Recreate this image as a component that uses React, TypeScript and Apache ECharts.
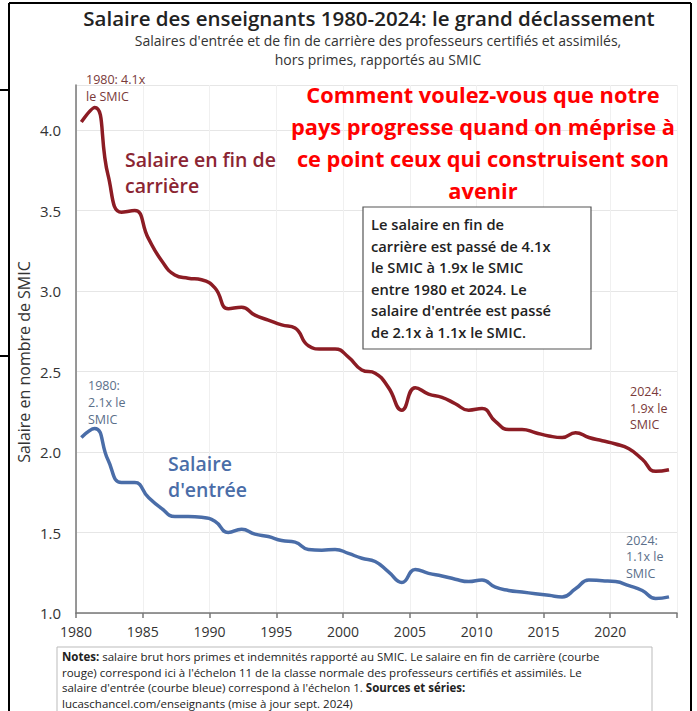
import React, { useEffect, useRef } from "react";
import * as echarts from "echarts";

const years: number[] = [
  1980, 1981, 1982, 1983, 1984, 1985, 1986, 1987, 1988, 1989,
  1990, 1991, 1992, 1993, 1994, 1995, 1996, 1997, 1998, 1999,
  2000, 2001, 2002, 2003, 2004, 2005, 2006, 2007, 2008, 2009,
  2010, 2011, 2012, 2013, 2014, 2015, 2016, 2017, 2018, 2019,
  2020, 2021, 2022, 2023, 2024,
];

const finCarriere: number[] = [
  4.05, 4.14, 3.72, 3.49, 3.5, 3.33, 3.19, 3.1, 3.08, 3.07,
  3.02, 2.89, 2.9, 2.85, 2.82, 2.79, 2.77, 2.66, 2.64, 2.64,
  2.59, 2.51, 2.49, 2.4, 2.26, 2.4, 2.36, 2.34, 2.3, 2.26,
  2.27, 2.19, 2.14, 2.14, 2.12, 2.1, 2.09, 2.12, 2.09, 2.07,
  2.05, 2.02, 1.955, 1.88, 1.89,
];

const entree: number[] = [
  2.09, 2.146, 1.95, 1.81, 1.81, 1.72, 1.65, 1.6, 1.6, 1.595,
  1.57, 1.5, 1.52, 1.49, 1.475, 1.45, 1.44, 1.395, 1.39, 1.395,
  1.37, 1.34, 1.32, 1.256, 1.19, 1.27, 1.246, 1.23, 1.21, 1.195,
  1.205, 1.16, 1.14, 1.13, 1.12, 1.11, 1.1, 1.15, 1.205, 1.2,
  1.195, 1.17, 1.14, 1.09, 1.1,
];

const yTicks: number[] = [1.0, 1.5, 2.0, 2.5, 3.0, 3.5, 4.0];
const xTickLabels: number[] = [1980, 1985, 1990, 1995, 2000, 2005, 2010, 2015, 2020];

const FONT = "'Open Sans', 'Noto Sans', sans-serif";
const YEAR_POS = 0.4; // values plotted slightly after the year tick, as in the source

export default function App() {
  const ref = useRef<HTMLDivElement>(null);

  useEffect(() => {
    if (!ref.current) return;
    const chart = echarts.init(ref.current, undefined, { renderer: "svg" });

    const red = "#8c1c24";
    const blue = "#4a6da8";
    const redNote = "#7a3a3a";
    const blueNote = "#5b6f8a";

    const txt = (x: number, y: number, text: string, opts: any = {}) => ({
      type: "text",
      x,
      y,
      z: 100,
      style: {
        text,
        fontFamily: FONT,
        fontSize: 13,
        fill: "#222",
        textAlign: "left",
        textVerticalAlign: "top",
        ...opts,
      },
    });

    const option: any = {
      animation: false,
      backgroundColor: "#fff",
      grid: { left: 76, right: 20, top: 85, bottom: 98, containLabel: false },
      xAxis: {
        type: "value",
        min: 1980,
        max: 2025,
        interval: 5,
        axisLine: { show: true, lineStyle: { color: "#777", width: 1.5 } },
        axisTick: { show: true, length: 5, lineStyle: { color: "#777", width: 1.5 } },
        axisLabel: {
          margin: 11,
          fontFamily: FONT,
          fontSize: 14,
          color: "#333",
          formatter: (v: number) => (xTickLabels.includes(v) ? String(v) : ""),
        },
        splitLine: { show: true, lineStyle: { color: "#f0f0f0", width: 1 } },
      },
      yAxis: {
        type: "value",
        min: 1.0,
        max: 4.28,
        interval: 0.5,
        axisLine: { show: true, lineStyle: { color: "#777", width: 1.5 } },
        axisTick: { show: false },
        axisLabel: {
          margin: 15,
          fontFamily: FONT,
          fontSize: 15,
          color: "#333",
          formatter: (v: number) => {
            const t = yTicks.find((k) => Math.abs(k - v) < 1e-6);
            return t !== undefined ? t.toFixed(1) : "";
          },
        },
        splitLine: { show: true, lineStyle: { color: "#e6e6e6", width: 1 } },
      },
      series: [
        {
          type: "line",
          name: "Salaire en fin de carrière",
          data: years.map((y, i) => [y + YEAR_POS, finCarriere[i]]),
          smooth: 0.5,
          showSymbol: false,
          lineStyle: { color: red, width: 3.5 },
          z: 5,
        },
        {
          type: "line",
          name: "Salaire d'entrée",
          data: years.map((y, i) => [y + YEAR_POS, entree[i]]),
          smooth: 0.5,
          showSymbol: false,
          lineStyle: { color: blue, width: 3.5 },
          z: 5,
        },
      ],
      graphic: [
        // frame lines
        { type: "line", shape: { x1: 9, y1: 3, x2: 691, y2: 3 }, style: { stroke: "#000", lineWidth: 2 }, z: 200 },
        { type: "line", shape: { x1: 9, y1: 3, x2: 9, y2: 711 }, style: { stroke: "#000", lineWidth: 2 }, z: 200 },
        { type: "line", shape: { x1: 691, y1: 3, x2: 691, y2: 711 }, style: { stroke: "#000", lineWidth: 2 }, z: 200 },
        { type: "line", shape: { x1: 0, y1: 90, x2: 9, y2: 90 }, style: { stroke: "#000", lineWidth: 2 }, z: 200 },
        { type: "line", shape: { x1: 0, y1: 356, x2: 9, y2: 356 }, style: { stroke: "#000", lineWidth: 2 }, z: 200 },

        // title & subtitle
        txt(369, 18, "Salaire des enseignants 1980-2024: le grand déclassement", {
          fontSize: 20.5,
          fontWeight: 600,
          textAlign: "center",
          textVerticalAlign: "middle",
          fill: "#222",
        }),
        txt(378, 40.5, "Salaires d'entrée et de fin de carrière des professeurs certifiés et assimilés,", {
          fontSize: 14,
          textAlign: "center",
          textVerticalAlign: "middle",
          fill: "#333",
        }),
        txt(378, 59, "hors primes, rapportés au SMIC", {
          fontSize: 14,
          textAlign: "center",
          textVerticalAlign: "middle",
          fill: "#333",
        }),

        // y axis name
        {
          type: "text",
          x: 24,
          y: 362,
          rotation: Math.PI / 2,
          z: 100,
          style: {
            text: "Salaire en nombre de SMIC",
            fontFamily: FONT,
            fontSize: 16,
            fill: "#333",
            textAlign: "center",
            textVerticalAlign: "middle",
          },
        },

        // annotations
        txt(86, 70.5, "1980: 4.1x\nle SMIC", { fontSize: 12.5, lineHeight: 17, fill: redNote }),
        txt(125, 147, "Salaire en fin de\ncarrière", { fontSize: 19.5, fontWeight: 600, lineHeight: 25.5, fill: "#8b2533" }),
        txt(88, 376.5, "1980:\n2.1x le\nSMIC", { fontSize: 12.5, lineHeight: 17, fill: blueNote }),
        txt(168, 451, "Salaire\nd'entrée", { fontSize: 19.5, fontWeight: 600, lineHeight: 25.5, fill: blue }),
        txt(630, 383.5, "2024:\n1.9x le\nSMIC", { fontSize: 12.5, lineHeight: 16.5, fill: redNote }),
        txt(626, 532, "2024:\n1.1x le\nSMIC", { fontSize: 12.5, lineHeight: 16.5, fill: blueNote }),

        // red headline
        txt(483, 78.5, "Comment voulez-vous que notre\npays progresse quand on méprise à\nce point ceux qui construisent son\navenir", {
          fontSize: 21.8,
          fontWeight: "bold",
          lineHeight: 32,
          textAlign: "center",
          fill: "#ff0000",
        }),

        // summary box
        {
          type: "rect",
          shape: { x: 363, y: 207, width: 228, height: 142 },
          style: { fill: "#fff", stroke: "#555", lineWidth: 1.2 },
          z: 90,
        },
        txt(371, 213.2, "Le salaire en fin de\ncarrière est passé de 4.1x\nle SMIC à 1.9x le SMIC\nentre 1980 et 2024. Le\nsalaire d'entrée est passé\nde 2.1x à 1.1x le SMIC.", {
          fontSize: 14.7,
          fontWeight: 600,
          lineHeight: 21.6,
          fill: "#222",
        }),

        // notes box
        {
          type: "rect",
          shape: { x: 57, y: 647, width: 595, height: 80 },
          style: { fill: "#fff", stroke: "#bbb", lineWidth: 1 },
          z: 90,
        },
        {
          type: "text",
          x: 62,
          y: 649,
          z: 100,
          style: {
            text:
              "{b|Notes:} salaire brut hors primes et indemnités rapporté au SMIC. Le salaire en fin de carrière (courbe\n" +
              "rouge) correspond ici à l'échelon 11 de la classe normale des professeurs certifiés et assimilés. Le\n" +
              "salaire d'entrée (courbe bleue) correspond à l'échelon 1. {b|Sources et séries:}\n" +
              "lucaschancel.com/enseignants (mise à jour sept. 2024)",
            fontFamily: FONT,
            fontSize: 11.5,
            lineHeight: 15.5,
            fill: "#222",
            textAlign: "left",
            textVerticalAlign: "top",
            rich: {
              b: { fontFamily: FONT, fontSize: 11.5, lineHeight: 15.5, fontWeight: "bold", fill: "#222" },
            },
          },
        },
      ],
    };

    chart.setOption(option);
    return () => chart.dispose();
  }, []);

  return (
    <div
      ref={ref}
      style={{ position: "fixed", left: 0, top: 0, width: 697, height: 711, background: "#fff" }}
    />
  );
}
